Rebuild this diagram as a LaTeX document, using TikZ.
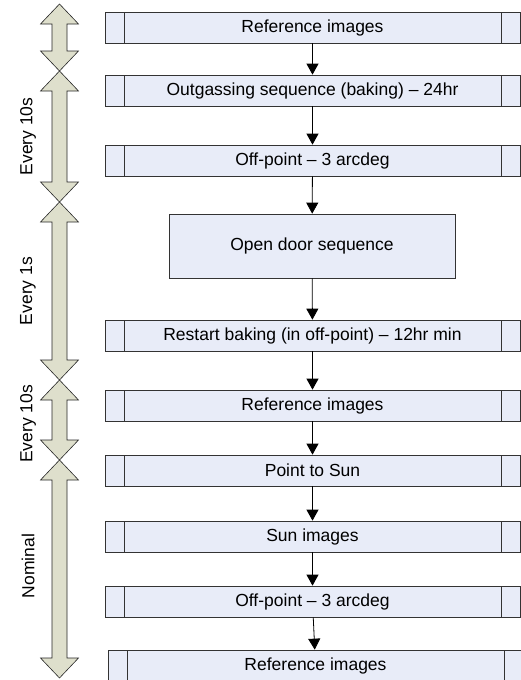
\documentclass[tikz,border=0pt]{standalone}
\usepackage{fontspec}
\setmainfont{Liberation Sans}
\usetikzlibrary{arrows.meta}
\definecolor{kastenblau}{RGB}{232,236,248}
\definecolor{pfeilgrau}{RGB}{222,223,204}
\begin{document}
\begin{tikzpicture}[
      x=1pt, y=-1pt,
      font=\fontsize{17.5}{20}\selectfont,
      schritt/.style={draw=black!80, fill=kastenblau, line width=0.7pt,
        minimum width=415pt, minimum height=31pt, inner sep=0pt,
        path picture={
          \draw[black!80, line width=0.7pt] ([xshift=19pt]path picture bounding box.north west) -- ([xshift=19pt]path picture bounding box.south west);
          \draw[black!80, line width=0.7pt] ([xshift=-19pt]path picture bounding box.north east) -- ([xshift=-19pt]path picture bounding box.south east);
        }},
      einfach/.style={draw=black!80, fill=kastenblau, line width=0.7pt,
        minimum width=286pt, minimum height=64pt, inner sep=0pt},
      fluss/.style={-{Triangle[width=12pt,length=11pt]}, line width=0.8pt},
      phase/.style={draw=black!85, fill=pfeilgrau, line width=0.6pt},
      takt/.style={rotate=90}
    ]
      \useasboundingbox (0,0) rectangle (520,680);
      % Zeitphasen links
      \foreach \oben/\unten in {4/71, 71/202, 202/380, 380/460, 460/678}
        \draw[phase] (59.5,\oben) -- (78.5,\oben+20) -- (67,\oben+20) -- (67,\unten-20)
          -- (78.5,\unten-20) -- (59.5,\unten) -- (40.5,\unten-20) -- (52,\unten-20)
          -- (52,\oben+20) -- (40.5,\oben+20) -- cycle;
      \node[takt] (t1) at (28,136.5) {Every 10s};
      \node[takt] (t2) at (28,291) {Every 1s};
      \node[takt] (t3) at (28,424) {Every 10s};
      \node[takt] (t4) at (28,566) {Nominal};
      % Ablauf
      \node[schritt] (ref1) at (312.5,27.5) {Reference images};
      \node[schritt] (bake) at (312.5,90.5) {Outgassing sequence (baking) -- 24hr};
      \node[schritt] (off1) at (312.5,160.5) {Off-point -- 3 arcdeg};
      \node[einfach] (door) at (312,246) {Open door sequence};
      \node[schritt] (rebake) at (312.5,335.5) {Restart baking (in off-point) -- 12hr min};
      \node[schritt] (ref2) at (312.5,405.5) {Reference images};
      \node[schritt] (sun) at (312.5,470.5) {Point to Sun};
      \node[schritt] (sunimg) at (312.5,536.5) {Sun images};
      \node[schritt] (off2) at (312.5,601.5) {Off-point -- 3 arcdeg};
      \node[schritt] (ref3) at (315.5,665.5) {Reference images};
      \draw[fluss] (ref1) -- (bake);
      \draw[fluss] (bake) -- (off1);
      \draw[fluss] (off1) -- (door);
      \draw[fluss] (door) -- (rebake);
      \draw[fluss] (rebake) -- (ref2);
      \draw[fluss] (ref2) -- (sun);
      \draw[fluss] (sun) -- (sunimg);
      \draw[fluss] (sunimg) -- (off2);
      \draw[fluss] (off2) -- (ref3);
    \end{tikzpicture}
\end{document}
